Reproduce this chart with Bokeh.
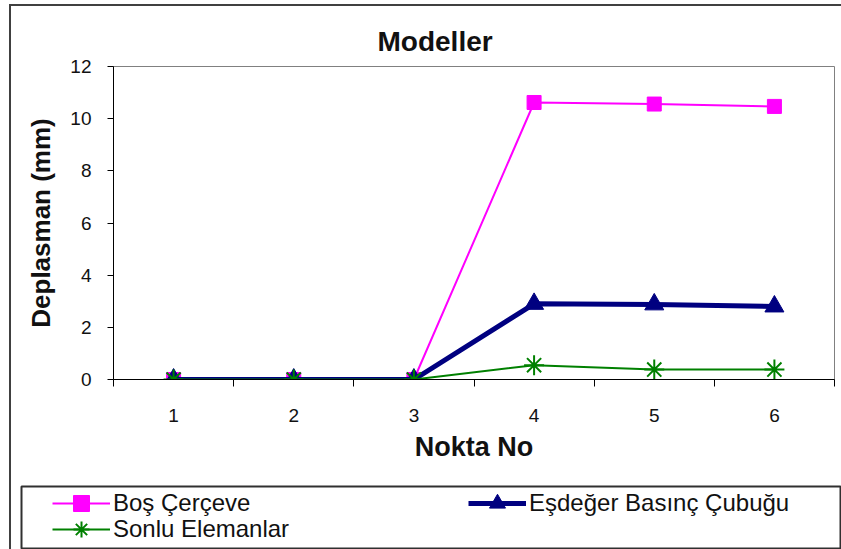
from bokeh.plotting import figure
from bokeh.models import Range1d, FixedTicker, Legend, LegendItem
from bokeh.layouts import column
from bokeh.embed import file_html
from bokeh.resources import INLINE

# ---- data ----
points = [1, 2, 3, 4, 5, 6]
bos_cerceve = [0, 0, 0, 10.62, 10.56, 10.47]
esdeger_basinc = [0, 0, 0, 2.9, 2.88, 2.8]
sonlu_elemanlar = [0, 0, 0, 0.55, 0.38, 0.38]
y_ticks = [0, 2, 4, 6, 8, 10, 12]
series_names = ["Boş Çerçeve", "Eşdeğer Basınç Çubuğu", "Sonlu Elemanlar"]
series_colors = ["#FF00FF", "#000080", "#008000"]
title_text = "Modeller"
x_title = "Nokta No"
y_title = "Deplasman (mm)"

FONT = "Liberation Sans"
TXT = "#111111"


def draw_series(fig):
    r1 = fig.line(points, bos_cerceve, color=series_colors[0], line_width=2)
    s1 = fig.scatter(points, bos_cerceve, marker="square", size=14, color=series_colors[0])
    r2 = fig.line(points, esdeger_basinc, color=series_colors[1], line_width=5)
    s2 = fig.scatter(points, esdeger_basinc, marker="triangle", size=19, color=series_colors[1])
    r3 = fig.line(points, sonlu_elemanlar, color=series_colors[2], line_width=2)
    s3 = fig.scatter(points, sonlu_elemanlar, marker="asterisk", size=20,
                     line_color=series_colors[2], line_width=2)
    return (r1, s1), (r2, s2), (r3, s3)


# ---------------- chart ----------------
p = figure(width=841, height=478, output_backend="svg", toolbar_location=None,
           x_range=Range1d(0.5, 6.5), y_range=Range1d(0, 12),
           min_border_left=113, min_border_right=7, min_border_top=66,
           min_border_bottom=99)
p.frame_align = False
p.background_fill_color = "white"
p.border_fill_alpha = 0
p.outline_line_color = "#808080"
p.outline_line_width = 1
p.grid.visible = False

p.title.text = title_text
p.title.align = "left"
p.title.offset = 264
p.title.standoff = 20
p.title.text_font = FONT
p.title.text_font_size = "28px"
p.title.text_font_style = "bold"
p.title.text_color = TXT

draw_series(p)

x_bounds = [v - 0.5 for v in points] + [points[-1] + 0.5]
xa = p.xaxis[0]
xa.ticker = FixedTicker(ticks=points, minor_ticks=x_bounds)
xa.major_tick_out = 0
xa.major_tick_in = 0
xa.minor_tick_out = 7
xa.minor_tick_in = 0
xa.minor_tick_line_color = "black"
xa.axis_line_color = "black"
xa.major_label_standoff = 22
xa.major_label_text_font = FONT
xa.major_label_text_font_size = "19px"
xa.major_label_text_color = TXT
xa.axis_label = x_title
xa.axis_label_text_font = FONT
xa.axis_label_text_font_style = "bold"
xa.axis_label_text_font_size = "27px"
xa.axis_label_text_color = TXT
xa.axis_label_standoff = 7

ya = p.yaxis[0]
ya.ticker = FixedTicker(ticks=y_ticks, minor_ticks=[])
ya.major_tick_out = 6
ya.major_tick_in = 0
ya.minor_tick_out = 0
ya.minor_tick_in = 0
ya.axis_line_color = "black"
ya.major_tick_line_color = "black"
ya.major_label_standoff = 16
ya.major_label_text_font = FONT
ya.major_label_text_font_size = "19px"
ya.major_label_text_color = TXT
ya.axis_label = y_title
ya.axis_label_text_font = FONT
ya.axis_label_text_font_style = "bold"
ya.axis_label_text_font_size = "26px"
ya.axis_label_text_color = TXT
ya.axis_label_standoff = 11

# ---------------- legend panel ----------------
lg = figure(width=841, height=71, output_backend="svg", toolbar_location=None,
            title=None, x_axis_location=None, y_axis_location=None,
            x_range=Range1d(100, 200), y_range=Range1d(100, 200),
            min_border_left=21, min_border_right=0, min_border_top=8,
            min_border_bottom=0)
lg.frame_align = False
lg.grid.visible = False
lg.background_fill_color = "white"
lg.border_fill_alpha = 0
lg.outline_line_color = "#303030"
lg.outline_line_width = 2

(a1, a2), (b1, b2), (c1, c2) = draw_series(lg)

leg_kw = dict(padding=0, margin=0, spacing=0, glyph_width=58, glyph_height=40,
              label_standoff=3, label_text_font=FONT, label_text_font_size="24px",
              label_height=25, label_text_color=TXT,
              border_line_alpha=0, background_fill_alpha=0)
lg.add_layout(Legend(items=[LegendItem(label=series_names[0], renderers=[a1, a2])],
                     location=(31, 26), **leg_kw))
lg.add_layout(Legend(items=[LegendItem(label=series_names[2], renderers=[c1, c2])],
                     location=(31, 0), **leg_kw))
lg.add_layout(Legend(items=[LegendItem(label=series_names[1], renderers=[b1, b2])],
                     location=(447, 26), **leg_kw))

bg = ("linear-gradient(#404040, #404040) 9px 4px / 2px 545px no-repeat, "
      "linear-gradient(#404040, #404040) 9px 4px / 832px 2px no-repeat, #ffffff")
layout = column(p, lg, spacing=0, styles={"background": bg})

open("out.html", "w").write(file_html(layout, INLINE))
